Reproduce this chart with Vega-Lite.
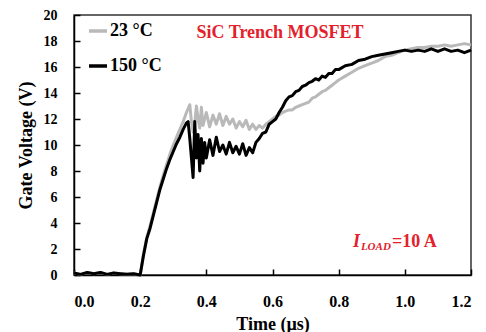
{
  "$schema": "https://vega.github.io/schema/vega-lite/v6.json",
  "width": 397,
  "height": 260,
  "autosize": {"type": "none"},
  "padding": {"left": 74, "top": 15, "right": 15, "bottom": 57},
  "background": "white",
  "config": {
    "font": "Liberation Serif",
    "view": {"stroke": "#333333", "strokeWidth": 1.5},
    "axis": {
      "labelFont": "Liberation Serif", "labelFontWeight": "bold", "labelFontSize": 16, "labelColor": "black",
      "titleFont": "Liberation Serif", "titleFontWeight": "bold", "titleFontSize": 18, "titleColor": "black",
      "domainColor": "black", "domainWidth": 1.5, "tickColor": "black", "tickWidth": 1.5, "tickSize": -6, "grid": false
    },
    "axisY": {"labelOverlap": false, "labelSeparation": -20, "labelFontSize": 14}
  },
  "datasets": {
    "curves": [
      {"t":0.00,"v":0.15,"s":"23 °C"},{"t":0.02,"v":0.05,"s":"23 °C"},{"t":0.04,"v":0.2,"s":"23 °C"},{"t":0.06,"v":0.1,"s":"23 °C"},{"t":0.08,"v":0.2,"s":"23 °C"},{"t":0.10,"v":0.05,"s":"23 °C"},{"t":0.12,"v":0.15,"s":"23 °C"},{"t":0.14,"v":0.1,"s":"23 °C"},{"t":0.16,"v":0.05,"s":"23 °C"},{"t":0.18,"v":0.1,"s":"23 °C"},{"t":0.20,"v":0.0,"s":"23 °C"},
      {"t":0.21,"v":1.6,"s":"23 °C"},{"t":0.22,"v":2.9,"s":"23 °C"},{"t":0.23,"v":3.8,"s":"23 °C"},{"t":0.24,"v":4.8,"s":"23 °C"},{"t":0.25,"v":5.8,"s":"23 °C"},{"t":0.26,"v":6.8,"s":"23 °C"},{"t":0.27,"v":7.7,"s":"23 °C"},{"t":0.28,"v":8.5,"s":"23 °C"},{"t":0.29,"v":9.3,"s":"23 °C"},{"t":0.30,"v":10.0,"s":"23 °C"},{"t":0.31,"v":10.6,"s":"23 °C"},{"t":0.32,"v":11.2,"s":"23 °C"},{"t":0.33,"v":11.8,"s":"23 °C"},{"t":0.34,"v":12.5,"s":"23 °C"},{"t":0.35,"v":13.1,"s":"23 °C"},{"t":0.355,"v":11.8,"s":"23 °C"},{"t":0.36,"v":11.0,"s":"23 °C"},{"t":0.365,"v":11.6,"s":"23 °C"},{"t":0.37,"v":13.0,"s":"23 °C"},{"t":0.375,"v":12.0,"s":"23 °C"},{"t":0.38,"v":11.3,"s":"23 °C"},{"t":0.385,"v":12.9,"s":"23 °C"},{"t":0.39,"v":11.5,"s":"23 °C"},{"t":0.40,"v":12.5,"s":"23 °C"},{"t":0.41,"v":11.4,"s":"23 °C"},{"t":0.42,"v":12.3,"s":"23 °C"},{"t":0.43,"v":11.6,"s":"23 °C"},{"t":0.44,"v":12.4,"s":"23 °C"},{"t":0.45,"v":11.5,"s":"23 °C"},{"t":0.46,"v":12.2,"s":"23 °C"},{"t":0.47,"v":11.6,"s":"23 °C"},{"t":0.48,"v":12.0,"s":"23 °C"},{"t":0.49,"v":11.3,"s":"23 °C"},{"t":0.50,"v":11.8,"s":"23 °C"},{"t":0.51,"v":11.4,"s":"23 °C"},{"t":0.52,"v":11.9,"s":"23 °C"},{"t":0.53,"v":11.2,"s":"23 °C"},{"t":0.54,"v":11.6,"s":"23 °C"},{"t":0.55,"v":11.2,"s":"23 °C"},{"t":0.56,"v":11.5,"s":"23 °C"},{"t":0.57,"v":11.3,"s":"23 °C"},{"t":0.58,"v":11.6,"s":"23 °C"},{"t":0.59,"v":11.8,"s":"23 °C"},{"t":0.60,"v":12.0,"s":"23 °C"},{"t":0.61,"v":12.2,"s":"23 °C"},{"t":0.62,"v":12.3,"s":"23 °C"},{"t":0.63,"v":12.5,"s":"23 °C"},{"t":0.64,"v":12.6,"s":"23 °C"},{"t":0.65,"v":12.7,"s":"23 °C"},{"t":0.66,"v":12.7,"s":"23 °C"},{"t":0.67,"v":12.9,"s":"23 °C"},{"t":0.68,"v":13.0,"s":"23 °C"},{"t":0.69,"v":13.1,"s":"23 °C"},{"t":0.70,"v":13.2,"s":"23 °C"},{"t":0.71,"v":13.3,"s":"23 °C"},{"t":0.72,"v":13.6,"s":"23 °C"},{"t":0.73,"v":13.7,"s":"23 °C"},{"t":0.74,"v":13.9,"s":"23 °C"},{"t":0.75,"v":14.1,"s":"23 °C"},{"t":0.76,"v":14.2,"s":"23 °C"},{"t":0.77,"v":14.4,"s":"23 °C"},{"t":0.78,"v":14.6,"s":"23 °C"},{"t":0.79,"v":14.8,"s":"23 °C"},{"t":0.80,"v":15.0,"s":"23 °C"},{"t":0.82,"v":15.3,"s":"23 °C"},{"t":0.84,"v":15.6,"s":"23 °C"},{"t":0.86,"v":15.9,"s":"23 °C"},{"t":0.88,"v":16.1,"s":"23 °C"},{"t":0.90,"v":16.3,"s":"23 °C"},{"t":0.92,"v":16.5,"s":"23 °C"},{"t":0.94,"v":16.8,"s":"23 °C"},{"t":0.96,"v":16.9,"s":"23 °C"},{"t":0.98,"v":17.1,"s":"23 °C"},{"t":1.00,"v":17.3,"s":"23 °C"},{"t":1.02,"v":17.4,"s":"23 °C"},{"t":1.04,"v":17.5,"s":"23 °C"},{"t":1.06,"v":17.5,"s":"23 °C"},{"t":1.08,"v":17.6,"s":"23 °C"},{"t":1.10,"v":17.6,"s":"23 °C"},{"t":1.12,"v":17.7,"s":"23 °C"},{"t":1.14,"v":17.6,"s":"23 °C"},{"t":1.16,"v":17.7,"s":"23 °C"},{"t":1.18,"v":17.8,"s":"23 °C"},{"t":1.20,"v":17.7,"s":"23 °C"},
      {"t":0.00,"v":0.15,"s":"150 °C"},{"t":0.02,"v":0.05,"s":"150 °C"},{"t":0.04,"v":0.2,"s":"150 °C"},{"t":0.06,"v":0.1,"s":"150 °C"},{"t":0.08,"v":0.2,"s":"150 °C"},{"t":0.10,"v":0.05,"s":"150 °C"},{"t":0.12,"v":0.15,"s":"150 °C"},{"t":0.14,"v":0.1,"s":"150 °C"},{"t":0.16,"v":0.05,"s":"150 °C"},{"t":0.18,"v":0.1,"s":"150 °C"},{"t":0.20,"v":0.0,"s":"150 °C"},
      {"t":0.21,"v":1.5,"s":"150 °C"},{"t":0.22,"v":2.8,"s":"150 °C"},{"t":0.23,"v":3.6,"s":"150 °C"},{"t":0.24,"v":4.6,"s":"150 °C"},{"t":0.25,"v":5.6,"s":"150 °C"},{"t":0.26,"v":6.6,"s":"150 °C"},{"t":0.27,"v":7.4,"s":"150 °C"},{"t":0.28,"v":8.2,"s":"150 °C"},{"t":0.29,"v":8.9,"s":"150 °C"},{"t":0.30,"v":9.5,"s":"150 °C"},{"t":0.31,"v":10.1,"s":"150 °C"},{"t":0.32,"v":10.6,"s":"150 °C"},{"t":0.33,"v":11.2,"s":"150 °C"},{"t":0.34,"v":11.7,"s":"150 °C"},{"t":0.345,"v":11.8,"s":"150 °C"},{"t":0.35,"v":10.5,"s":"150 °C"},{"t":0.355,"v":9.0,"s":"150 °C"},{"t":0.36,"v":7.5,"s":"150 °C"},{"t":0.365,"v":11.8,"s":"150 °C"},{"t":0.37,"v":9.0,"s":"150 °C"},{"t":0.375,"v":10.8,"s":"150 °C"},{"t":0.38,"v":8.0,"s":"150 °C"},{"t":0.385,"v":10.5,"s":"150 °C"},{"t":0.39,"v":8.6,"s":"150 °C"},{"t":0.395,"v":10.2,"s":"150 °C"},{"t":0.40,"v":9.0,"s":"150 °C"},{"t":0.41,"v":10.4,"s":"150 °C"},{"t":0.42,"v":9.2,"s":"150 °C"},{"t":0.43,"v":10.6,"s":"150 °C"},{"t":0.44,"v":9.5,"s":"150 °C"},{"t":0.45,"v":10.0,"s":"150 °C"},{"t":0.46,"v":9.3,"s":"150 °C"},{"t":0.47,"v":10.2,"s":"150 °C"},{"t":0.48,"v":9.4,"s":"150 °C"},{"t":0.49,"v":9.9,"s":"150 °C"},{"t":0.50,"v":9.3,"s":"150 °C"},{"t":0.51,"v":10.1,"s":"150 °C"},{"t":0.52,"v":9.2,"s":"150 °C"},{"t":0.53,"v":9.8,"s":"150 °C"},{"t":0.54,"v":9.4,"s":"150 °C"},{"t":0.55,"v":10.2,"s":"150 °C"},{"t":0.56,"v":10.5,"s":"150 °C"},{"t":0.57,"v":10.9,"s":"150 °C"},{"t":0.58,"v":11.0,"s":"150 °C"},{"t":0.59,"v":11.6,"s":"150 °C"},{"t":0.60,"v":11.8,"s":"150 °C"},{"t":0.61,"v":12.0,"s":"150 °C"},{"t":0.62,"v":12.5,"s":"150 °C"},{"t":0.63,"v":12.9,"s":"150 °C"},{"t":0.64,"v":13.4,"s":"150 °C"},{"t":0.65,"v":13.7,"s":"150 °C"},{"t":0.66,"v":13.8,"s":"150 °C"},{"t":0.67,"v":14.1,"s":"150 °C"},{"t":0.68,"v":14.2,"s":"150 °C"},{"t":0.69,"v":14.5,"s":"150 °C"},{"t":0.70,"v":14.6,"s":"150 °C"},{"t":0.71,"v":14.8,"s":"150 °C"},{"t":0.72,"v":14.9,"s":"150 °C"},{"t":0.73,"v":15.1,"s":"150 °C"},{"t":0.74,"v":15.0,"s":"150 °C"},{"t":0.75,"v":15.3,"s":"150 °C"},{"t":0.76,"v":15.2,"s":"150 °C"},{"t":0.77,"v":15.5,"s":"150 °C"},{"t":0.78,"v":15.5,"s":"150 °C"},{"t":0.79,"v":15.8,"s":"150 °C"},{"t":0.80,"v":15.8,"s":"150 °C"},{"t":0.82,"v":16.1,"s":"150 °C"},{"t":0.84,"v":16.2,"s":"150 °C"},{"t":0.86,"v":16.5,"s":"150 °C"},{"t":0.88,"v":16.6,"s":"150 °C"},{"t":0.90,"v":16.8,"s":"150 °C"},{"t":0.92,"v":16.9,"s":"150 °C"},{"t":0.94,"v":17.0,"s":"150 °C"},{"t":0.96,"v":17.1,"s":"150 °C"},{"t":0.98,"v":17.2,"s":"150 °C"},{"t":1.00,"v":17.3,"s":"150 °C"},{"t":1.02,"v":17.2,"s":"150 °C"},{"t":1.04,"v":17.3,"s":"150 °C"},{"t":1.06,"v":17.2,"s":"150 °C"},{"t":1.08,"v":17.4,"s":"150 °C"},{"t":1.10,"v":17.2,"s":"150 °C"},{"t":1.12,"v":17.4,"s":"150 °C"},{"t":1.14,"v":17.2,"s":"150 °C"},{"t":1.16,"v":17.3,"s":"150 °C"},{"t":1.18,"v":17.1,"s":"150 °C"},{"t":1.20,"v":17.3,"s":"150 °C"}
    ],
    "notes": [
      {"t":0.623,"v":18.6,"label":"SiC Trench MOSFET"}
    ],
    "iload": [
      {"t":0.843,"v":2.4,"main":"I","sub":"LOAD","rest":"=10 A"}
    ]
  },
  "encoding": {
    "x": {"field": "t", "type": "quantitative", "scale": {"domain": [0, 1.2], "nice": false},
          "axis": {"values": [0,0.2,0.4,0.6,0.8,1.0,1.2], "format": ".1f", "title": "Time (µs)", "labelPadding": 24, "titlePadding": 6, "labelOverlap": false}},
    "y": {"field": "v", "type": "quantitative", "scale": {"domain": [0, 20], "nice": false},
          "axis": {"values": [0,2,4,6,8,10,12,14,16,18,20], "format": "d", "title": "Gate Voltage (V)", "labelPadding": 23, "titlePadding": 8, "labelOverlap": false, "labelSeparation": -20, "labelFontSize": 14, "labelFlush": false}}
  },
  "layer": [
    {
      "data": {"name": "curves"},
      "mark": {"type": "line", "strokeWidth": 3, "strokeJoin": "round"},
      "encoding": {
        "color": {"field": "s", "type": "nominal", "sort": ["23 °C", "150 °C"],
                  "scale": {"domain": ["23 °C", "150 °C"], "range": ["#b9b9b9", "#000000"]},
                  "legend": {"orient": "none", "legendX": 13, "legendY": 5, "title": null,
                             "symbolType": "stroke", "symbolSize": 324, "symbolStrokeWidth": 3.5,
                             "labelFont": "Liberation Serif", "labelFontWeight": "bold", "labelFontSize": 18, "labelColor": "black",
                             "labelOffset": 1, "rowPadding": 15}},
        "order": {"field": "t", "type": "quantitative"}
      }
    },
    {
      "data": {"name": "notes"},
      "mark": {"type": "text", "color": "#e3202b", "font": "Liberation Serif", "fontWeight": "bold", "fontSize": 18, "align": "center", "baseline": "middle"},
      "encoding": {"text": {"field": "label"}}
    },
    {
      "data": {"name": "iload"},
      "mark": {"type": "text", "color": "#e3202b", "font": "Liberation Serif", "fontWeight": "bold", "fontStyle": "italic", "fontSize": 18, "align": "left", "baseline": "alphabetic", "dy": 3},
      "encoding": {"text": {"field": "main"}}
    },
    {
      "data": {"name": "iload"},
      "mark": {"type": "text", "color": "#e3202b", "font": "Liberation Serif", "fontWeight": "bold", "fontStyle": "italic", "fontSize": 11, "align": "left", "baseline": "alphabetic", "dx": 8, "dy": 6},
      "encoding": {"text": {"field": "sub"}}
    },
    {
      "data": {"name": "iload"},
      "mark": {"type": "text", "color": "#e3202b", "font": "Liberation Serif", "fontWeight": "bold", "fontSize": 18, "align": "left", "baseline": "alphabetic", "dx": 39, "dy": 3},
      "encoding": {"text": {"field": "rest"}}
    }
  ]
}
